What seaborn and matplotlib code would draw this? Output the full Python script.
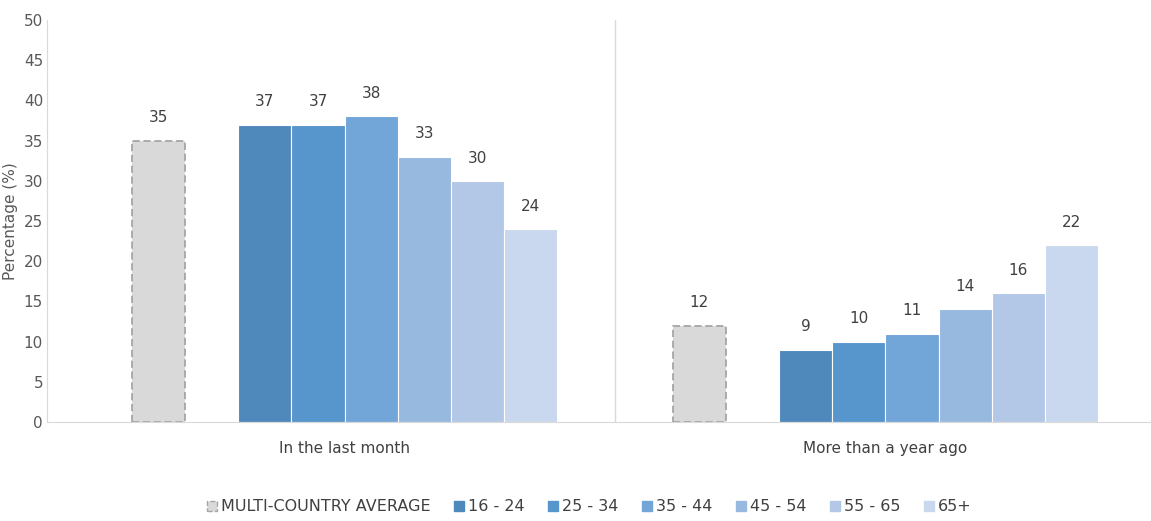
import pandas as pd
import numpy as np
import matplotlib.pyplot as plt
import seaborn as sns
from matplotlib.patches import Patch
from matplotlib.colors import to_hex

# Chart data
categories = ['In the last month', 'More than a year ago']
series = ['MULTI-COUNTRY AVERAGE', '16 - 24', '25 - 34', '35 - 44', '45 - 54', '55 - 65', '65+']
avg_values = [35, 12]
age_16_24 = [37, 9]
age_25_34 = [37, 10]
age_35_44 = [38, 11]
age_45_54 = [33, 14]
age_55_65 = [30, 16]
age_65_plus = [24, 22]

colors = ['#D9D9D9', '#4F88BB', '#5795CD', '#72A5D8', '#97B8DF', '#B2C8E6', '#C9D8EE']

# Long format table
all_values = [avg_values, age_16_24, age_25_34, age_35_44, age_45_54, age_55_65, age_65_plus]
rows = []
for s, vals in zip(series, all_values):
    for c, v in zip(categories, vals):
        rows.append({'Category': c, 'Series': s, 'Value': v})
data = pd.DataFrame(rows)

# spacer level leaves an empty slot after the average bar
spacer = ' '
hue_order = [series[0], spacer] + series[1:]
palette = dict(zip(series, colors))
palette[spacer] = '#FFFFFF'

sns.set_style('white')
plt.rcParams['font.family'] = ['DejaVu Sans']

fig = plt.figure(figsize=(11.51, 5.21), dpi=100)
ax = fig.add_axes([0.041, 0.19, 0.958, 0.7716])

sns.barplot(data=data, x='Category', y='Value', hue='Series', hue_order=hue_order,
            order=categories, palette=palette, width=0.787, ax=ax, legend=False,
            edgecolor='white', linewidth=0.8, saturation=1)

# dashed outline for the average bars
for bar in ax.patches:
    if to_hex(bar.get_facecolor()).upper() == colors[0]:
        bar.set_edgecolor('#A6A6A6')
        bar.set_linestyle((0, (4, 2)))
        bar.set_linewidth(1.3)

for cont in ax.containers:
    ax.bar_label(cont, fmt='%g', padding=11, fontsize=11, color='#404040')

ax.set_ylim(0, 50)
ax.set_xlim(-0.55, 1.489)
ax.set_yticks(np.arange(0, 51, 5))
ax.tick_params(axis='y', labelsize=11, labelcolor='#595959', length=0, pad=3)
ax.tick_params(axis='x', labelsize=11, labelcolor='#404040', length=0, pad=14)
ax.set_xlabel('')
ax.set_ylabel('Percentage (%)', fontsize=11, color='#595959', labelpad=4)

for side in ['top', 'right']:
    ax.spines[side].set_visible(False)
ax.spines['left'].set_color('#D9D9D9')
ax.spines['bottom'].set_color('#D9D9D9')
ax.axvline(0.5, color='#D9D9D9', linewidth=1)

handles = []
for s, c in zip(series, colors):
    if s == series[0]:
        handles.append(Patch(facecolor=c, edgecolor='#A6A6A6', linestyle='--', label=s))
    else:
        handles.append(Patch(facecolor=c, edgecolor=c, label=s))
fig.legend(handles=handles, loc='center', bbox_to_anchor=(0.512, 0.027), ncol=7,
           frameon=False, fontsize=11.5, handlelength=0.6, handleheight=0.6,
           handletextpad=0.25, columnspacing=1.5, labelcolor='#404040')

plt.savefig('out.png', dpi=100)
